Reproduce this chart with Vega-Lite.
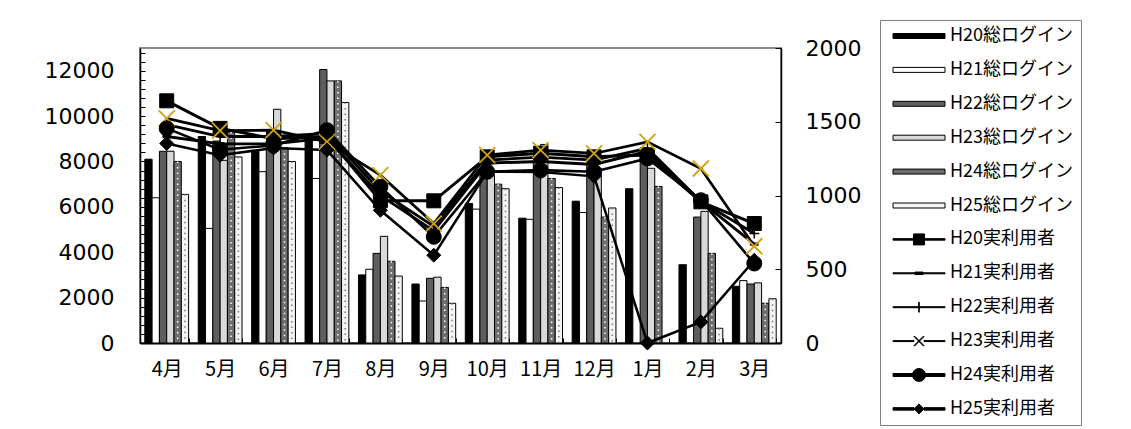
{
  "$schema": "https://vega.github.io/schema/vega-lite/v6.json",
  "width": 641,
  "height": 295,
  "autosize": {"type": "none"},
  "padding": {"left": 140, "top": 48, "right": 350, "bottom": 86},
  "background": "white",
  "config": {
    "view": {"stroke": "#8c8c8c", "strokeWidth": 2},
    "axis": {"grid": false, "domainColor": "black", "tickColor": "black", "labelColor": "black"},
    "legend": {
      "title": null, "orient": "none", "legendX": 740, "legendY": -28,
      "strokeColor": "#808080", "fillColor": "white", "padding": 7,
      "labelFont": "Noto Sans CJK JP", "labelFontSize": 18, "labelColor": "black", "labelLimit": 300,
      "symbolSize": 100, "rowPadding": 15.9, "labelOffset": 45,
      "symbolStrokeColor": "black", "symbolStrokeWidth": 1, "symbolOpacity": 1
    }
  },
  "datasets": {
    "login": [
      {"month": "4月", "series": "H20総ログイン", "value": 8100},
      {"month": "5月", "series": "H20総ログイン", "value": 9100},
      {"month": "6月", "series": "H20総ログイン", "value": 8450},
      {"month": "7月", "series": "H20総ログイン", "value": 9100},
      {"month": "8月", "series": "H20総ログイン", "value": 3000},
      {"month": "9月", "series": "H20総ログイン", "value": 2600},
      {"month": "10月", "series": "H20総ログイン", "value": 6150},
      {"month": "11月", "series": "H20総ログイン", "value": 5500},
      {"month": "12月", "series": "H20総ログイン", "value": 6250},
      {"month": "1月", "series": "H20総ログイン", "value": 6800},
      {"month": "2月", "series": "H20総ログイン", "value": 3450},
      {"month": "3月", "series": "H20総ログイン", "value": 2500},
      {"month": "4月", "series": "H21総ログイン", "value": 6400},
      {"month": "5月", "series": "H21総ログイン", "value": 5050},
      {"month": "6月", "series": "H21総ログイン", "value": 7550},
      {"month": "7月", "series": "H21総ログイン", "value": 7250},
      {"month": "8月", "series": "H21総ログイン", "value": 3250},
      {"month": "9月", "series": "H21総ログイン", "value": 1850},
      {"month": "10月", "series": "H21総ログイン", "value": 5900},
      {"month": "11月", "series": "H21総ログイン", "value": 5450},
      {"month": "12月", "series": "H21総ログイン", "value": 5750},
      {"month": "3月", "series": "H21総ログイン", "value": 2750},
      {"month": "4月", "series": "H22総ログイン", "value": 8450},
      {"month": "5月", "series": "H22総ログイン", "value": 8900},
      {"month": "6月", "series": "H22総ログイン", "value": 8900},
      {"month": "7月", "series": "H22総ログイン", "value": 12050},
      {"month": "8月", "series": "H22総ログイン", "value": 3950},
      {"month": "9月", "series": "H22総ログイン", "value": 2850},
      {"month": "10月", "series": "H22総ログイン", "value": 7600},
      {"month": "11月", "series": "H22総ログイン", "value": 8000},
      {"month": "12月", "series": "H22総ログイン", "value": 7900},
      {"month": "1月", "series": "H22総ログイン", "value": 8600},
      {"month": "2月", "series": "H22総ログイン", "value": 5550},
      {"month": "3月", "series": "H22総ログイン", "value": 2600},
      {"month": "4月", "series": "H23総ログイン", "value": 8450},
      {"month": "5月", "series": "H23総ログイン", "value": 8050},
      {"month": "6月", "series": "H23総ログイン", "value": 10300},
      {"month": "7月", "series": "H23総ログイン", "value": 11550},
      {"month": "8月", "series": "H23総ログイン", "value": 4700},
      {"month": "9月", "series": "H23総ログイン", "value": 2900},
      {"month": "10月", "series": "H23総ログイン", "value": 7400},
      {"month": "11月", "series": "H23総ログイン", "value": 8750},
      {"month": "12月", "series": "H23総ログイン", "value": 7700},
      {"month": "1月", "series": "H23総ログイン", "value": 7700},
      {"month": "2月", "series": "H23総ログイン", "value": 5800},
      {"month": "3月", "series": "H23総ログイン", "value": 2650},
      {"month": "4月", "series": "H24総ログイン", "value": 8000},
      {"month": "5月", "series": "H24総ログイン", "value": 9300},
      {"month": "6月", "series": "H24総ログイン", "value": 8600},
      {"month": "7月", "series": "H24総ログイン", "value": 11550},
      {"month": "8月", "series": "H24総ログイン", "value": 3600},
      {"month": "9月", "series": "H24総ログイン", "value": 2450},
      {"month": "10月", "series": "H24総ログイン", "value": 7000},
      {"month": "11月", "series": "H24総ログイン", "value": 7250},
      {"month": "12月", "series": "H24総ログイン", "value": 5550},
      {"month": "1月", "series": "H24総ログイン", "value": 6900},
      {"month": "2月", "series": "H24総ログイン", "value": 3950},
      {"month": "3月", "series": "H24総ログイン", "value": 1750},
      {"month": "4月", "series": "H25総ログイン", "value": 6550},
      {"month": "5月", "series": "H25総ログイン", "value": 8200},
      {"month": "6月", "series": "H25総ログイン", "value": 8000},
      {"month": "7月", "series": "H25総ログイン", "value": 10600},
      {"month": "8月", "series": "H25総ログイン", "value": 2950},
      {"month": "9月", "series": "H25総ログイン", "value": 1750},
      {"month": "10月", "series": "H25総ログイン", "value": 6800},
      {"month": "11月", "series": "H25総ログイン", "value": 6850},
      {"month": "12月", "series": "H25総ログイン", "value": 5950},
      {"month": "2月", "series": "H25総ログイン", "value": 650},
      {"month": "3月", "series": "H25総ログイン", "value": 1950}
    ],
    "users": [
      {"month": "4月", "series": "H20実利用者", "value": 1642},
      {"month": "5月", "series": "H20実利用者", "value": 1455},
      {"month": "6月", "series": "H20実利用者", "value": 1385},
      {"month": "7月", "series": "H20実利用者", "value": 1400},
      {"month": "8月", "series": "H20実利用者", "value": 965},
      {"month": "9月", "series": "H20実利用者", "value": 964},
      {"month": "10月", "series": "H20実利用者", "value": 1262},
      {"month": "11月", "series": "H20実利用者", "value": 1287},
      {"month": "12月", "series": "H20実利用者", "value": 1262},
      {"month": "1月", "series": "H20実利用者", "value": 1274},
      {"month": "2月", "series": "H20実利用者", "value": 957},
      {"month": "3月", "series": "H20実利用者", "value": 810},
      {"month": "4月", "series": "H21実利用者", "value": 1400},
      {"month": "5月", "series": "H21実利用者", "value": 1350},
      {"month": "6月", "series": "H21実利用者", "value": 1350},
      {"month": "7月", "series": "H21実利用者", "value": 1390},
      {"month": "8月", "series": "H21実利用者", "value": 1000},
      {"month": "9月", "series": "H21実利用者", "value": 760},
      {"month": "10月", "series": "H21実利用者", "value": 1220},
      {"month": "11月", "series": "H21実利用者", "value": 1230},
      {"month": "12月", "series": "H21実利用者", "value": 1210},
      {"month": "1月", "series": "H21実利用者", "value": 1300},
      {"month": "2月", "series": "H21実利用者", "value": 960},
      {"month": "3月", "series": "H21実利用者", "value": 670},
      {"month": "4月", "series": "H22実利用者", "value": 1480},
      {"month": "5月", "series": "H22実利用者", "value": 1400},
      {"month": "6月", "series": "H22実利用者", "value": 1400},
      {"month": "7月", "series": "H22実利用者", "value": 1420},
      {"month": "8月", "series": "H22実利用者", "value": 1030},
      {"month": "9月", "series": "H22実利用者", "value": 790},
      {"month": "10月", "series": "H22実利用者", "value": 1240},
      {"month": "11月", "series": "H22実利用者", "value": 1260},
      {"month": "12月", "series": "H22実利用者", "value": 1240},
      {"month": "1月", "series": "H22実利用者", "value": 1320},
      {"month": "2月", "series": "H22実利用者", "value": 960},
      {"month": "3月", "series": "H22実利用者", "value": 742},
      {"month": "4月", "series": "H23実利用者", "value": 1523},
      {"month": "5月", "series": "H23実利用者", "value": 1440},
      {"month": "6月", "series": "H23実利用者", "value": 1443},
      {"month": "7月", "series": "H23実利用者", "value": 1364},
      {"month": "8月", "series": "H23実利用者", "value": 1138},
      {"month": "9月", "series": "H23実利用者", "value": 810},
      {"month": "10月", "series": "H23実利用者", "value": 1274},
      {"month": "11月", "series": "H23実利用者", "value": 1308},
      {"month": "12月", "series": "H23実利用者", "value": 1285},
      {"month": "1月", "series": "H23実利用者", "value": 1364},
      {"month": "2月", "series": "H23実利用者", "value": 1183},
      {"month": "3月", "series": "H23実利用者", "value": 656},
      {"month": "4月", "series": "H24実利用者", "value": 1455},
      {"month": "5月", "series": "H24実利用者", "value": 1310},
      {"month": "6月", "series": "H24実利用者", "value": 1340},
      {"month": "7月", "series": "H24実利用者", "value": 1443},
      {"month": "8月", "series": "H24実利用者", "value": 1059},
      {"month": "9月", "series": "H24実利用者", "value": 720},
      {"month": "10月", "series": "H24実利用者", "value": 1161},
      {"month": "11月", "series": "H24実利用者", "value": 1172},
      {"month": "12月", "series": "H24実利用者", "value": 1161},
      {"month": "1月", "series": "H24実利用者", "value": 1251},
      {"month": "2月", "series": "H24実利用者", "value": 968},
      {"month": "3月", "series": "H24実利用者", "value": 539},
      {"month": "4月", "series": "H25実利用者", "value": 1353},
      {"month": "5月", "series": "H25実利用者", "value": 1273},
      {"month": "6月", "series": "H25実利用者", "value": 1322},
      {"month": "7月", "series": "H25実利用者", "value": 1308},
      {"month": "8月", "series": "H25実利用者", "value": 900},
      {"month": "9月", "series": "H25実利用者", "value": 595},
      {"month": "10月", "series": "H25実利用者", "value": 1161},
      {"month": "11月", "series": "H25実利用者", "value": 1160},
      {"month": "12月", "series": "H25実利用者", "value": 1130},
      {"month": "1月", "series": "H25実利用者", "value": 0},
      {"month": "2月", "series": "H25実利用者", "value": 143},
      {"month": "3月", "series": "H25実利用者", "value": 561}
    ]
  },
  "layer": [
    {
      "data": {"name": "login"},
      "encoding": {
        "x": {
          "field": "month", "type": "nominal",
          "sort": ["4月","5月","6月","7月","8月","9月","10月","11月","12月","1月","2月","3月"],
          "scale": {"paddingInner": 0.18, "paddingOuter": 0.09},
          "axis": {"title": null, "labelAngle": 0, "labelFont": "Noto Sans CJK JP", "labelFontSize": 20, "labelPadding": 21, "tickBand": "extent", "tickSize": -5, "domainWidth": 2}
        },
        "xOffset": {
          "field": "series", "type": "nominal",
          "scale": {"domain": ["H20総ログイン","H21総ログイン","H22総ログイン","H23総ログイン","H24総ログイン","H25総ログイン"], "paddingInner": 0, "paddingOuter": 0}
        },
        "y": {
          "field": "value", "type": "quantitative",
          "scale": {"domain": [0, 13000], "nice": false, "zero": true},
          "axis": {
            "title": null, "orient": "left",
            "values": [0,400,800,1200,1600,2000,2400,2800,3200,3600,4000,4400,4800,5200,5600,6000,6400,6800,7200,7600,8000,8400,8800,9200,9600,10000,10400,10800,11200,11600,12000,12400,12800],
            "labelExpr": "datum.value % 2000 === 0 ? format(datum.value, 'd') : ''",
            "labelFont": "DejaVu Sans", "labelFontSize": 22, "tickSize": -5, "labelPadding": 31, "domainWidth": 1.5
          }
        }
      },
      "layer": [
        {
          "mark": {"type": "bar", "stroke": "black", "strokeWidth": 1, "opacity": 1},
          "encoding": {
            "fill": {
              "field": "series", "type": "nominal",
              "scale": {
                "domain": ["H20総ログイン","H21総ログイン","H22総ログイン","H23総ログイン","H24総ログイン","H25総ログイン","H20実利用者","H21実利用者","H22実利用者","H23実利用者","H24実利用者","H25実利用者"],
                "range": ["#000000","#ffffff","#5e5e5e","#d9d9d9","#6e6e6e","#f4f4f4","#000000","#000000","#000000","#000000","#000000","#000000"]
              },
              "legend": {}
            }
          }
        },
        {
          "transform": [{"filter": {"field": "series", "equal": "H24総ログイン"}}],
          "mark": {"type": "rule", "strokeDash": [1.5, 4], "strokeWidth": 1.5, "stroke": "#ffffff"},
          "encoding": {"y2": {"datum": 60}}
        },
        {
          "transform": [{"filter": {"field": "series", "equal": "H25総ログイン"}}],
          "mark": {"type": "rule", "strokeDash": [1.5, 4], "strokeWidth": 1.5, "stroke": "#7a7a7a"},
          "encoding": {"y2": {"datum": 60}}
        }
      ]
    },
    {
      "data": {"name": "users"},
      "encoding": {
        "x": {
          "field": "month", "type": "nominal",
          "sort": ["4月","5月","6月","7月","8月","9月","10月","11月","12月","1月","2月","3月"]
        },
        "y": {
          "field": "value", "type": "quantitative",
          "scale": {"domain": [0, 2000], "nice": false},
          "axis": {
            "title": null, "orient": "right", "values": [0, 500, 1000, 1500, 2000], "format": "d",
            "labelFont": "DejaVu Sans", "labelFontSize": 22, "tickSize": -6, "labelPadding": 30, "domainWidth": 1.5
          }
        }
      },
      "layer": [
        {
          "mark": {"type": "line", "stroke": "black", "clip": false},
          "encoding": {
            "detail": {"field": "series"},
            "strokeWidth": {
              "field": "series", "type": "nominal", "legend": null,
              "scale": {"domain": ["H20実利用者","H21実利用者","H22実利用者","H23実利用者","H24実利用者","H25実利用者"], "range": [3, 2.5, 2.5, 2.5, 3.5, 3.5]}
            }
          }
        },
        {
          "transform": [{"filter": {"field": "series", "equal": "H20実利用者"}}],
          "mark": {"type": "point", "shape": "square", "size": 196, "filled": true, "fill": "black", "stroke": "black", "strokeWidth": 1, "opacity": 1, "clip": false},
          "encoding": {}
        },
        {
          "transform": [{"filter": {"field": "series", "equal": "H21実利用者"}}],
          "mark": {"type": "point", "shape": "M-1,-0.35H1V0.35H-1Z", "size": 64, "filled": true, "fill": "black", "stroke": "black", "strokeWidth": 0.5, "opacity": 1, "clip": false},
          "encoding": {}
        },
        {
          "transform": [{"filter": {"field": "series", "equal": "H22実利用者"}}],
          "mark": {"type": "point", "shape": "M-1,0H1M0,-1V1", "size": 100, "filled": false, "stroke": "black", "strokeWidth": 1.5, "opacity": 1, "clip": false},
          "encoding": {}
        },
        {
          "transform": [{"filter": {"field": "series", "equal": "H23実利用者"}}],
          "mark": {"type": "point", "shape": "M-1,-1L1,1M-1,1L1,-1", "size": 256, "filled": false, "stroke": "#d1a30f", "strokeWidth": 1.8, "opacity": 1, "clip": false},
          "encoding": {}
        },
        {
          "transform": [{"filter": {"field": "series", "equal": "H24実利用者"}}],
          "mark": {"type": "point", "shape": "circle", "size": 225, "filled": true, "fill": "black", "stroke": "black", "strokeWidth": 1, "opacity": 1, "clip": false},
          "encoding": {}
        },
        {
          "transform": [{"filter": {"field": "series", "equal": "H25実利用者"}}],
          "mark": {"type": "point", "shape": "diamond", "size": 196, "filled": true, "fill": "black", "stroke": "black", "strokeWidth": 1, "opacity": 1, "clip": false},
          "encoding": {}
        }
      ]
    },
    {
      "data": {"name": "users"},
      "transform": [{"filter": "false"}],
      "mark": {"type": "point", "filled": true, "opacity": 1},
      "encoding": {
        "fill": {"field": "series", "type": "nominal", "legend": {}},
        "stroke": {
          "field": "series", "type": "nominal",
          "scale": {
            "domain": ["H20総ログイン","H21総ログイン","H22総ログイン","H23総ログイン","H24総ログイン","H25総ログイン","H20実利用者","H21実利用者","H22実利用者","H23実利用者","H24実利用者","H25実利用者"],
            "range": ["#000000","#000000","#000000","#000000","#000000","#000000","#000000","#000000","#000000","#000000","#000000","#000000"]
          },
          "legend": {}
        },
        "shape": {
          "field": "series", "type": "nominal",
          "scale": {
            "domain": ["H20総ログイン","H21総ログイン","H22総ログイン","H23総ログイン","H24総ログイン","H25総ログイン","H20実利用者","H21実利用者","H22実利用者","H23実利用者","H24実利用者","H25実利用者"],
            "range": [
              "M-0.6,-0.5H9.8V0.5H-0.6Z",
              "M-0.6,-0.5H9.8V0.5H-0.6Z",
              "M-0.6,-0.5H9.8V0.5H-0.6Z",
              "M-0.6,-0.5H9.8V0.5H-0.6Z",
              "M-0.6,-0.5H9.8V0.5H-0.6Z",
              "M-0.6,-0.5H9.8V0.5H-0.6Z",
              "M-0.6,-0.15H3.5V0.15H-0.6Z M5.7,-0.15H9.8V0.15H5.7Z M3.5,-1.1H5.7V1.1H3.5Z",
              "M-0.6,-0.1H9.8V0.1H-0.6Z M3.8,-0.25H5.4V0.25H3.8Z",
              "M-0.6,-0.1H9.8V0.1H-0.6Z M4.55,-1H4.65V1H4.55Z",
              "M-0.6,-0.1H3.6V0.1H-0.6Z M5.6,-0.1H9.8V0.1H5.6Z M3.6,-0.9L3.7,-1L5.6,0.9L5.5,1Z M3.6,0.9L5.5,-1L5.6,-0.9L3.7,1Z",
              "M-0.6,-0.3H3.3V0.3H-0.6Z M5.9,-0.3H9.8V0.3H5.9Z M3.3,0A1.3,1.3,0,1,1,5.9,0A1.3,1.3,0,1,1,3.3,0Z",
              "M-0.6,-0.25H3.6V0.25H-0.6Z M5.6,-0.25H9.8V0.25H5.6Z M3.6,0L4.6,-1L5.6,0L4.6,1Z"
            ]
          },
          "legend": {}
        }
      }
    }
  ],
  "resolve": {"scale": {"y": "independent"}}
}
